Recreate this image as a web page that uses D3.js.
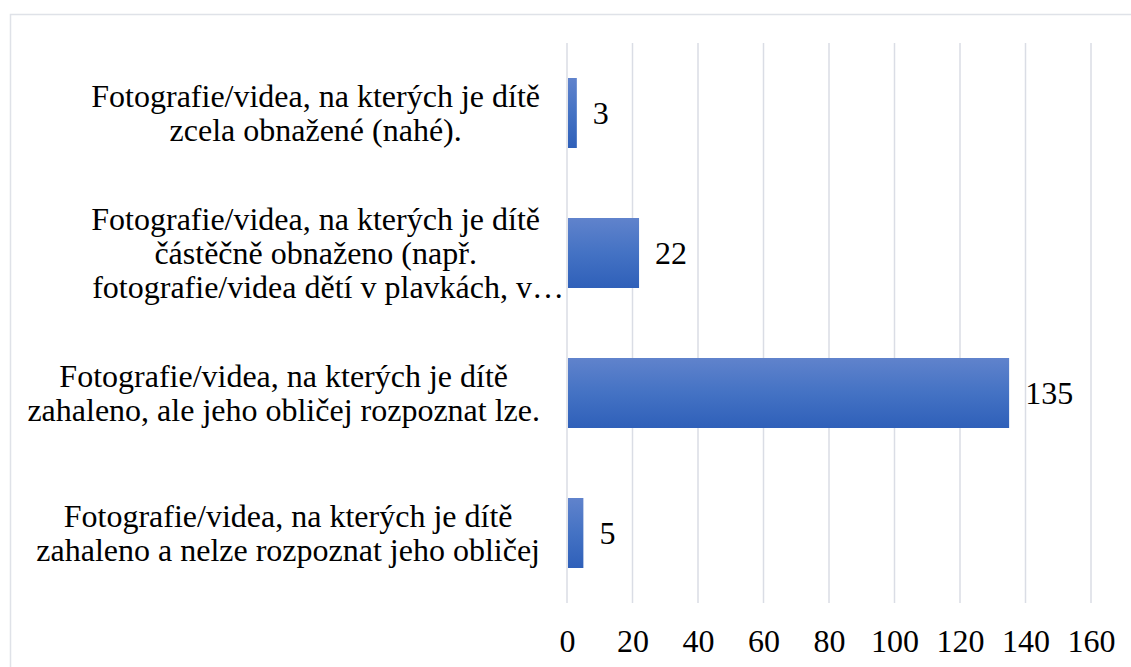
<!DOCTYPE html>
<html>
<head>
<meta charset="utf-8">
<script src="https://cdn.jsdelivr.net/npm/d3@7"></script>
<style>
  body { margin: 0; background: #fff; }
</style>
</head>
<body>
<svg></svg>
<script>
// categories, top to bottom (line breaks as in the original)
const categories = [
  "Fotografie/videa, na kterých je dítě\nzcela obnažené (nahé).",
  "Fotografie/videa, na kterých je dítě\nčástěčně obnaženo (např.\nfotografie/videa dětí v plavkách, v…",
  "Fotografie/videa, na kterých je dítě\nzahaleno, ale jeho obličej rozpoznat lze.",
  "Fotografie/videa, na kterých je dítě\nzahaleno a nelze rozpoznat jeho obličej",
];
const values = [3, 22, 135, 5];
const xTicks = [0, 20, 40, 60, 80, 100, 120, 140, 160];

const width = 1131,
  height = 667;
const font = '"Liberation Serif"';
const fontSize = "32px";

const svg = d3.select("svg").attr("width", width).attr("height", height);

// chart border (runs off the right and bottom edge)
svg
  .append("rect")
  .attr("x", 10.5)
  .attr("y", 14.5)
  .attr("width", width + 20)
  .attr("height", height + 20)
  .attr("fill", "none")
  .attr("stroke", "#dfe2e8")
  .attr("stroke-width", 1.5);

const x = d3.scaleLinear().domain([0, 160]).range([567, 1091]);

const y = d3
  .scaleBand()
  .domain(categories)
  .range([43, 603])
  .paddingInner(0.5)
  .paddingOuter(0.25);

// bar gradient
const grad = svg
  .append("defs")
  .append("linearGradient")
  .attr("id", "barGrad")
  .attr("x1", 0)
  .attr("y1", 0)
  .attr("x2", 0)
  .attr("y2", 1);
grad.append("stop").attr("offset", "0%").attr("stop-color", "#6083cc");
grad.append("stop").attr("offset", "50%").attr("stop-color", "#4472c4");
grad.append("stop").attr("offset", "100%").attr("stop-color", "#2f60b9");

// gridlines
svg
  .append("g")
  .selectAll("line")
  .data(xTicks)
  .enter()
  .append("line")
  .attr("x1", (d) => x(d))
  .attr("x2", (d) => x(d))
  .attr("y1", 43)
  .attr("y2", 603)
  .attr("stroke", "#dadde5")
  .attr("stroke-width", 1.5);

// bars
svg
  .append("g")
  .selectAll("rect")
  .data(values)
  .enter()
  .append("rect")
  .attr("x", x(0) + 1)
  .attr("y", (d, i) => y(categories[i]))
  .attr("width", (d) => x(d) - x(0) - 1)
  .attr("height", y.bandwidth())
  .attr("fill", "url(#barGrad)");

// value labels
svg
  .append("g")
  .selectAll("text")
  .data(values)
  .enter()
  .append("text")
  .attr("x", (d) => x(d) + 16)
  .attr("y", (d, i) => y(categories[i]) + y.bandwidth() / 2)
  .attr("dy", "0.35em")
  .style("font-family", font)
  .style("font-size", fontSize)
  .attr("fill", "#000")
  .text((d) => d);

// x axis labels
const xAxis = svg
  .append("g")
  .attr("transform", "translate(0, 629)")
  .call(d3.axisBottom(x).tickValues(xTicks).tickSize(0).tickPadding(0));
xAxis.select(".domain").remove();
xAxis
  .selectAll("text")
  .style("font-family", font)
  .style("font-size", fontSize)
  .attr("fill", "#000");

// category labels: lines centred inside a block right-aligned to the axis
const labelRight = 540;
const lineH = 34;
categories.forEach((c, i) => {
  const lines = c.split("\n");
  const cy = y(c) + y.bandwidth() / 2;
  const g = svg.append("g");
  const texts = lines.map((ln, j) =>
    g
      .append("text")
      .attr("y", cy + (j - (lines.length - 1) / 2) * lineH)
      .attr("dy", "0.35em")
      .attr("text-anchor", "middle")
      .style("font-family", font)
      .style("font-size", fontSize)
      .attr("fill", "#000")
      .text(ln)
  );
  // truncated lines (ending with …) run up to the axis instead
  const blockW = d3.max(texts, (t, j) =>
    lines[j].endsWith("…") ? 0 : t.node().getComputedTextLength()
  );
  texts.forEach((t, j) => {
    if (lines[j].endsWith("…")) {
      t.attr("text-anchor", "end").attr("x", x(0) - 3);
    } else {
      t.attr("x", labelRight - blockW / 2);
    }
  });
});
</script>
</body>
</html>
